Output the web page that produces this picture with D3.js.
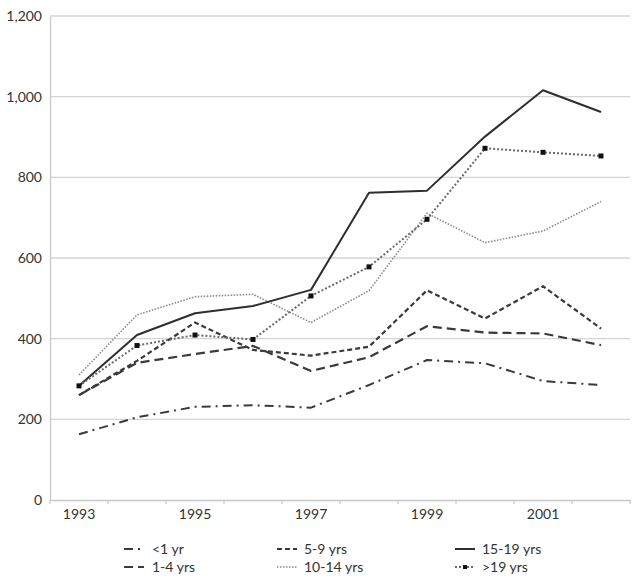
<!DOCTYPE html>
<html><head><meta charset="utf-8">
<script src="https://cdn.jsdelivr.net/npm/d3@7"></script>
<style>body{margin:0;background:#fff}svg{display:block}text{font-family:Lato,"Open Sans",sans-serif;fill:#333}</style>
</head><body>
<svg id="c" width="640" height="583"></svg>
<script>
const years = [1993,1994,1995,1996,1997,1998,1999,2000,2001,2002];
const yTicks = [0,200,400,600,800,1000,1200];
const xLabels = [1993,1995,1997,1999,2001];
const seriesNames = ["<1 yr","1-4 yrs","5-9 yrs","10-14 yrs","15-19 yrs",">19 yrs"];
const lt1 = [163,205,231,235,229,285,347,339,295,285];
const y1to4 = [260,340,362,382,320,354,431,415,413,384];
const y5to9 = [260,345,440,372,358,380,520,450,530,425];
const y10to14 = [310,459,504,510,440,519,711,638,667,740];
const y15to19 = [283,409,463,481,521,762,767,901,1016,962];
const gt19 = [283,383,409,398,506,578,696,872,862,853];

const allSeries = [lt1,y1to4,y5to9,y10to14,y15to19,gt19];
const styles = [
  {stroke:"#3a3a3a", w:2, dash:"9,5,2,5"},
  {stroke:"#3a3a3a", w:2.2, dash:"9,5"},
  {stroke:"#3a3a3a", w:2.2, dash:"5,3"},
  {stroke:"#8a8a8a", w:1.6, dash:"1.5,1.5"},
  {stroke:"#2e2e2e", w:2, dash:null},
  {stroke:"#6a6a6a", w:2, dash:"2,2", marker:true}
];

const svg = d3.select("#c");
const L=50, R=630, T=16, B=500;
const x = d3.scaleBand().domain(years).range([L,R]);
const y = d3.scaleLinear().domain([0,1200]).range([B,T]);

// gridlines
svg.append("g").selectAll("line").data(yTicks.filter(d=>d>0)).join("line")
  .attr("x1",L).attr("x2",R).attr("y1",d=>y(d)).attr("y2",d=>y(d))
  .attr("stroke","#d4d4d4").attr("stroke-width",1.3);

// y axis
const ya = svg.append("g").attr("transform",`translate(${L},0)`)
  .call(d3.axisLeft(y).tickValues(yTicks).tickSize(0).tickPadding(8).tickFormat(d3.format(",")));
ya.select(".domain").attr("stroke","#c8c8c8").attr("stroke-width",1.3);
ya.selectAll("text").style("font-size","14px").attr("fill","#333");

// x axis
const xa = svg.append("g").attr("transform",`translate(0,${B})`)
  .call(d3.axisBottom(x).tickValues(xLabels).tickSize(0).tickPadding(9));
xa.select(".domain").attr("stroke","#c8c8c8").attr("stroke-width",1.3);
xa.selectAll("text").style("font-size","14px").attr("fill","#333");
// minor tick marks at band boundaries
svg.append("g").selectAll("line").data(years.concat([null])).join("line")
  .attr("x1",(d,i)=>L+i*x.bandwidth()).attr("x2",(d,i)=>L+i*x.bandwidth())
  .attr("y1",B).attr("y2",B+4).attr("stroke","#c8c8c8").attr("stroke-width",1.2);

const line = d3.line().x((d,i)=>x(years[i])+x.bandwidth()/2).y(d=>y(d));

allSeries.forEach((s,k)=>{
  const st = styles[k];
  svg.append("path").datum(s).attr("d",line).attr("fill","none")
    .attr("stroke",st.stroke).attr("stroke-width",st.w)
    .attr("stroke-dasharray",st.dash).attr("stroke-linejoin","round");
  if(st.marker){
    svg.append("g").selectAll("rect").data(s).join("rect")
      .attr("x",(d,i)=>x(years[i])+x.bandwidth()/2-2.5).attr("y",d=>y(d)-2.5)
      .attr("width",5).attr("height",5).attr("fill","#111");
  }
});

// legend
const legPos = [
  {sx:124, tx:152, ty:549},
  {sx:124, tx:152, ty:567},
  {sx:277, tx:304, ty:549},
  {sx:277, tx:304, ty:567},
  {sx:455, tx:482, ty:549},
  {sx:455, tx:482, ty:567}
];
seriesNames.forEach((n,k)=>{
  const p = legPos[k], st = styles[k];
  const g = svg.append("g");
  g.append("line").attr("x1",p.sx).attr("x2",p.sx+20).attr("y1",p.ty).attr("y2",p.ty)
    .attr("stroke",st.stroke).attr("stroke-width",st.w).attr("stroke-dasharray",st.dash);
  if(st.marker) g.append("rect").attr("x",p.sx+8).attr("y",p.ty-2).attr("width",4).attr("height",4).attr("fill","#111");
  g.append("text").attr("x",p.tx).attr("y",p.ty).attr("dy","0.35em").style("font-size","14px").text(n);
});
</script>
</body></html>
